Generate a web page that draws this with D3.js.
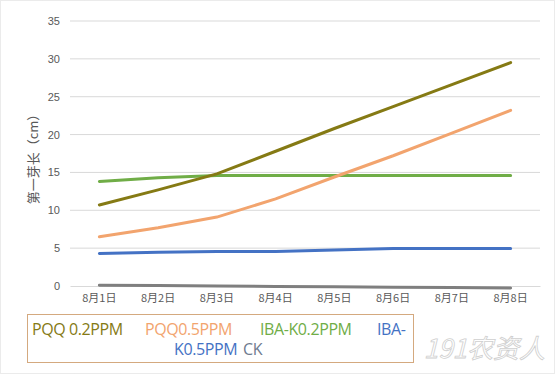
<!DOCTYPE html>
<html>
<head>
<meta charset="utf-8">
<script src="https://cdn.jsdelivr.net/npm/d3@7"></script>
<style>
  body { margin: 0; background: #fff; }
  svg { display: block; font-family: "Open Sans", "Noto Sans CJK SC", sans-serif; }
</style>
</head>
<body>
<svg id="chart" width="555" height="374"></svg>
<script>
var days = ["8月1日", "8月2日", "8月3日", "8月4日", "8月5日", "8月6日", "8月7日", "8月8日"];
var yTicks = [0, 5, 10, 15, 20, 25, 30, 35];

var pqq02 = [10.7, 12.7, 14.8, 17.8, 20.8, 23.7, 26.6, 29.5];
var pqq05 = [6.5, 7.7, 9.1, 11.5, 14.4, 17.2, 20.2, 23.2];
var ibaK02 = [13.8, 14.3, 14.6, 14.6, 14.6, 14.6, 14.6, 14.6];
var ibaK05 = [4.3, 4.45, 4.55, 4.55, 4.75, 4.95, 4.95, 4.95];
var ck = [0.1, 0.05, 0, -0.05, -0.1, -0.15, -0.2, -0.25];

var series = [
    {name: "PQQ 0.2PPM", values: pqq02, color: "#857a14"},
    {name: "PQQ0.5PPM", values: pqq05, color: "#f2a46e"},
    {name: "IBA-K0.2PPM", values: ibaK02, color: "#70ad47"},
    {name: "IBA-K0.5PPM", values: ibaK05, color: "#4472c4"},
    {name: "CK", values: ck, color: "#7f7f7f"}
];

var svg = d3.select("#chart");
var W = 555, H = 374;

// outer dotted frame
svg.append("rect")
    .attr("x", 0.5).attr("y", 0.5)
    .attr("width", W - 1).attr("height", H - 1)
    .attr("fill", "#fff")
    .attr("stroke", "#d6d6d6")
    .attr("stroke-dasharray", "1,1");

var margin = {top: 21, right: 15, bottom: 88, left: 70};
var width = 540 - margin.left, height = 286 - margin.top;

var g = svg.append("g")
    .attr("transform", "translate(" + margin.left + "," + margin.top + ")");

var x = d3.scaleBand().domain(days).range([0, width]);
var y = d3.scaleLinear().domain([0, 35]).range([height, 0]);

// gridlines
g.selectAll(".grid")
    .data(yTicks.slice(1))
    .enter().append("line")
    .attr("x1", 0).attr("x2", width)
    .attr("y1", function (d) { return y(d); })
    .attr("y2", function (d) { return y(d); })
    .attr("stroke", "#d9d9d9")
    .attr("stroke-width", 1);

// y axis labels
var yAxis = d3.axisLeft(y).tickValues(yTicks).tickSize(0).tickPadding(10);
g.append("g")
    .call(yAxis)
    .call(function (s) { s.select(".domain").remove(); })
    .selectAll("text")
    .attr("fill", "#595959")
    .style("font-size", "11px");

// x axis
var xAxis = d3.axisBottom(x).tickSize(0).tickPadding(8);
var xg = g.append("g")
    .attr("transform", "translate(0," + height + ")")
    .call(xAxis);
xg.select(".domain").attr("stroke", "#d9d9d9");
xg.selectAll("text")
    .attr("fill", "#595959")
    .style("font-family", "'Noto Sans CJK SC', sans-serif")
    .style("font-size", "11px");

// y title
svg.append("text")
    .attr("transform", "translate(38,156) rotate(-90)")
    .attr("text-anchor", "middle")
    .attr("fill", "#595959")
    .style("font-family", "'Noto Sans CJK SC', sans-serif")
    .style("font-size", "13px")
    .text("第一芽长（cm）");

// lines
var line = d3.line()
    .x(function (d, i) { return x(days[i]) + x.bandwidth() / 2; })
    .y(function (d) { return y(d); });

g.selectAll(".series")
    .data(series.slice().reverse())
    .enter().append("path")
    .attr("d", function (d) { return line(d.values); })
    .attr("fill", "none")
    .attr("stroke", function (d) { return d.color; })
    .attr("stroke-width", 3)
    .attr("stroke-linecap", "round");

// legend
svg.append("rect")
    .attr("x", 27.5).attr("y", 314.5)
    .attr("width", 386).attr("height", 48)
    .attr("fill", "#fff")
    .attr("stroke", "#d4a97f")
    .attr("stroke-width", 1);

var legendItems = [
    {text: "PQQ 0.2PPM", color: series[0].color, x: 32, y: 335},
    {text: "PQQ0.5PPM", color: series[1].color, x: 145, y: 335},
    {text: "IBA-K0.2PPM", color: series[2].color, x: 260, y: 335},
    {text: "IBA-", color: series[3].color, x: 377, y: 335},
    {text: "K0.5PPM", color: series[3].color, x: 174, y: 355},
    {text: "CK", color: "#6f7b8f", x: 243, y: 355}
];

svg.selectAll(".legend")
    .data(legendItems)
    .enter().append("text")
    .attr("x", function (d) { return d.x; })
    .attr("y", function (d) { return d.y; })
    .attr("fill", function (d) { return d.color; })
    .style("font-size", "16px")
    .style("letter-spacing", "-0.4px")
    .text(function (d) { return d.text; });

// watermark
svg.append("text")
    .attr("x", 545).attr("y", 358)
    .attr("text-anchor", "end")
    .attr("fill", "none")
    .attr("stroke", "#cfcfcf")
    .attr("stroke-width", 0.8)
    .style("font-size", "26px")
    .style("font-style", "italic")
    .style("font-family", "'Noto Sans CJK SC', sans-serif")
    .text("191农资人");
</script>
</body>
</html>
